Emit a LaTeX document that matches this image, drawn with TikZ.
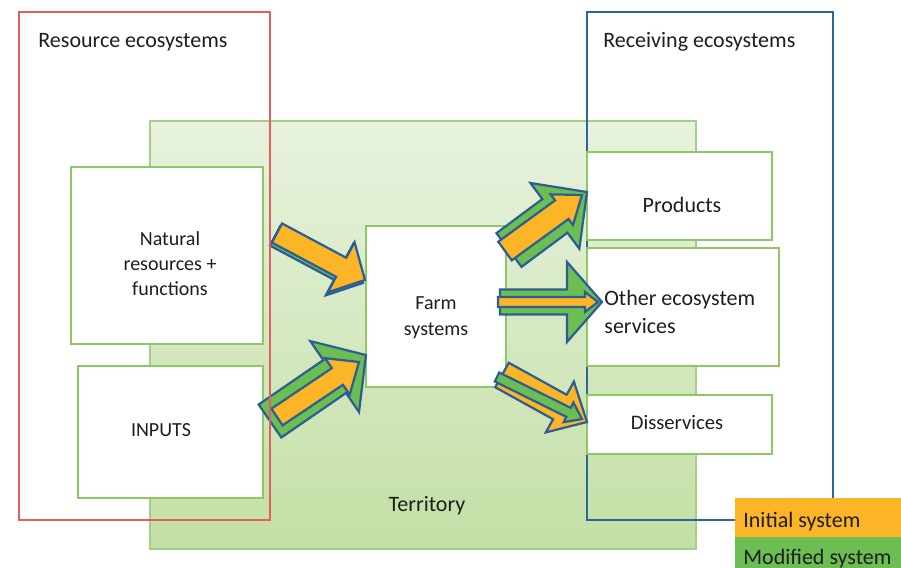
\documentclass[tikz,border=0pt]{standalone}
\usepackage{fontspec}
\setmainfont{Carlito}
\usepackage{tikz}
\usetikzlibrary{positioning,calc}
\definecolor{initorange}{RGB}{251,181,38}
\definecolor{modgreen}{RGB}{108,189,82}
\definecolor{arrowblue}{RGB}{42,94,148}
\definecolor{resred}{RGB}{228,94,94}
\definecolor{recblue}{RGB}{45,102,153}
\definecolor{boxgreen}{RGB}{140,200,100}
\definecolor{terrtop}{RGB}{232,242,222}
\definecolor{terrbot}{RGB}{195,223,165}
\definecolor{terrline}{RGB}{165,206,135}
\definecolor{textgray}{RGB}{30,30,30}
\tikzset{
  ecobox/.style={draw=boxgreen,fill=white,line width=1pt,inner sep=0pt},
  ecoframe/.style={line width=1.2pt},
  blockinit/.style={fill=initorange,draw=arrowblue,line width=1.1pt,line join=miter},
  blockmod/.style={blockinit,fill=modgreen},
  bigtext/.style={font=\fontsize{11}{14}\selectfont,text=textgray,inner sep=0pt,align=left},
  smalltext/.style={font=\fontsize{10}{12.5}\selectfont,text=textgray,inner sep=0pt,align=center}
}
% block arrow: style, tail x/y, tip x/y, half shaft, half head, head length
\newcommand{\blockarrow}[8]{%
  \pgfmathsetmacro{\arang}{atan2(#3-#5,#4-#2)}%
  \pgfmathsetmacro{\arlen}{veclen(#4-#2,#5-#3)}%
  \pgfmathsetmacro{\arneck}{\arlen-#8}%
  \begin{scope}[shift={(#2,#3)},rotate=\arang]
    \draw[#1] (0,#6) -- (\arneck,#6) -- (\arneck,#7) -- (\arlen,0)
      -- (\arneck,-#7) -- (\arneck,-#6) -- (0,-#6) -- cycle;
  \end{scope}}

\begin{document}
\begin{tikzpicture}[x=0.5pt,y=-0.5pt]
  \useasboundingbox (0,0) rectangle (901,568);
  \fill[white] (0,0) rectangle (901,568);

  \shade[top color=terrtop,bottom color=terrbot] (150,121) rectangle (696,549);
  \draw[terrline,line width=0.8pt] (150,121) rectangle (696,549);
  \draw[recblue,ecoframe] (587,12) rectangle (833,520);

  \node[ecobox,minimum width=96pt,minimum height=88.5pt] (natbox) at (167,255.5) {};
  \node[ecobox,minimum width=92.5pt,minimum height=66pt] (inbox) at (170.5,432) {};
  \node[ecobox,minimum width=70pt,minimum height=80.5pt] (farmbox) at (436,306.5) {};
  \node[ecobox,minimum width=92.5pt,minimum height=44pt] (prodbox) at (679.5,196) {};
  \node[ecobox,minimum width=96pt,minimum height=59pt] (servbox) at (683,307) {};
  \node[ecobox,minimum width=92.5pt,minimum height=29.5pt] (disbox) at (679.5,424.5) {};

  \blockarrow{blockmod}{275}{236}{363}{283}{10.8}{28.4}{27}
  \blockarrow{blockinit}{277}{233}{365}{280}{10.8}{28.4}{27}
  \blockarrow{blockmod}{270}{421}{366}{355}{20}{43}{38}
  \blockarrow{blockinit}{277}{417}{359}{362}{10}{22}{26}
  \blockarrow{blockmod}{509}{250}{587}{192}{21}{41}{40}
  \blockarrow{blockinit}{505}{251}{582}{195}{11.5}{19}{25}
  \blockarrow{blockmod}{500}{302}{602}{302}{12.5}{40}{35}
  \blockarrow{blockinit}{498}{302}{598}{302}{5}{10}{13}
  \blockarrow{blockinit}{502}{375}{587}{422}{14}{29}{31}
  \blockarrow{blockmod}{497}{377}{582}{419}{5}{11}{15}

  \draw[resred,ecoframe] (19,12) rectangle (270,520);

  \node[bigtext,anchor=base west] (resource) at (38,47) {Resource ecosystems};
  \node[bigtext,anchor=base west] (receiving) at (603,47) {Receiving ecosystems};
  \node[smalltext] (natural) at (170,264) {Natural\\resources +\\functions};
  \node[smalltext,anchor=base] (inputs) at (161,436) {INPUTS};
  \node[smalltext,font=\fontsize{10}{13}\selectfont] (farm) at (436,318) {Farm\\systems};
  \node[bigtext,anchor=base] (products) at (682,212) {Products};
  \node[bigtext,anchor=west] (services) at (604,312) {Other ecosystem\\services};
  \node[smalltext,font=\fontsize{10.3}{12.5}\selectfont,anchor=base] (disservices) at (677,429) {Disservices};
  \node[bigtext,anchor=base] (territory) at (427,511) {Territory};

  \fill[initorange] (735,498) rectangle (901,537);
  \fill[modgreen] (735,537) rectangle (901,568);
  \node[bigtext,anchor=base west] (initial) at (743,527) {Initial system};
  \node[bigtext,anchor=base west] (modified) at (743,564) {Modified system};
\end{tikzpicture}
\end{document}
